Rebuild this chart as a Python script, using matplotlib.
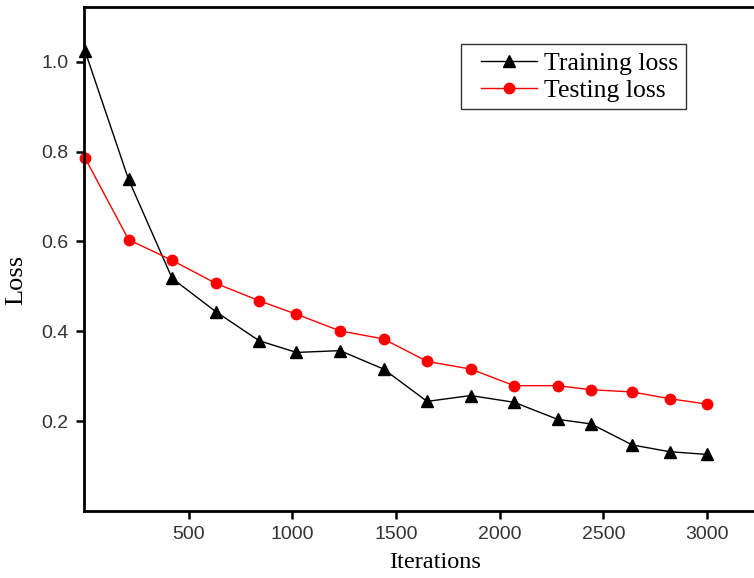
import matplotlib
matplotlib.use("Agg")
import matplotlib.pyplot as plt
from matplotlib.legend_handler import HandlerLine2D

iterations = [0, 210, 420, 630, 840, 1020, 1230, 1440, 1650, 1860, 2070, 2280, 2440, 2640, 2820, 3000]
training_loss = [1.024, 0.738, 0.518, 0.444, 0.379, 0.353, 0.357, 0.316, 0.244, 0.257, 0.242, 0.204, 0.194, 0.147, 0.132, 0.126]
testing_loss = [0.786, 0.604, 0.558, 0.507, 0.468, 0.438, 0.401, 0.383, 0.333, 0.316, 0.279, 0.279, 0.270, 0.265, 0.250, 0.238]
x_ticks = [500, 1000, 1500, 2000, 2500, 3000]
y_ticks = [0.2, 0.4, 0.6, 0.8, 1.0]

W, H = 754, 578
fig = plt.figure(figsize=(W / 100, H / 100), dpi=100)
left, right, top, bottom = 84, 754, 7, 511
ax = fig.add_axes([left / W, (H - bottom) / H, (right - left) / W, (bottom - top) / H])

l1, = ax.plot(iterations, training_loss, color="black", lw=1.0, marker="^", markersize=9,
              markerfacecolor="black", markeredgecolor="black", label="Training loss", clip_on=False)
l2, = ax.plot(iterations, testing_loss, color="red", lw=1.0, marker="o", markersize=7.5,
              markerfacecolor="red", markeredgecolor="red", label="Testing loss", clip_on=False)

ax.set_xlim(-5, 3227)
ax.set_ylim(0, 1.122)
ax.set_xticks(x_ticks)
ax.set_yticks(y_ticks)
ax.set_xticklabels([str(t) for t in x_ticks])
ax.set_yticklabels([f"{t:.1f}" for t in y_ticks])

for s in ["left", "bottom", "top"]:
    ax.spines[s].set_linewidth(2)
    ax.spines[s].set_color("black")
ax.spines["right"].set_visible(False)

ax.tick_params(direction="out", length=6, width=1.8, labelsize=14,
               labelcolor="#333333", pad=5)
for lab in ax.get_xticklabels() + ax.get_yticklabels():
    lab.set_fontfamily("Liberation Sans")

ax.set_xlabel("Iterations", fontsize=17.5, family="Liberation Serif", va="center")
ax.set_ylabel("Loss", fontsize=19, family="Liberation Serif", va="center")
ax.xaxis.set_label_coords((435 - left) / (right - left), -(562 - bottom) / (bottom - top))
ax.yaxis.set_label_coords((16 - left) / (right - left), (bottom - 280) / (bottom - top))

fs = 18.5
fs_px = fs * 100 / 72
xpad = 12 / fs_px
hmap = {l1: HandlerLine2D(xpad=xpad), l2: HandlerLine2D(xpad=xpad)}
leg = ax.legend(handles=[l1, l2], handler_map=hmap, loc="upper left",
                bbox_to_anchor=((461 - left) / (right - left), 1 - (44 - top) / (bottom - top)),
                prop={"family": "Liberation Serif", "size": fs}, frameon=True, fancybox=False,
                edgecolor="black", handlelength=(12 + 56) / fs_px, handletextpad=0.3,
                borderpad=0.3, labelspacing=0.15, borderaxespad=0)
leg.get_frame().set_linewidth(1.0)

fig.savefig("out.png", dpi=100)
